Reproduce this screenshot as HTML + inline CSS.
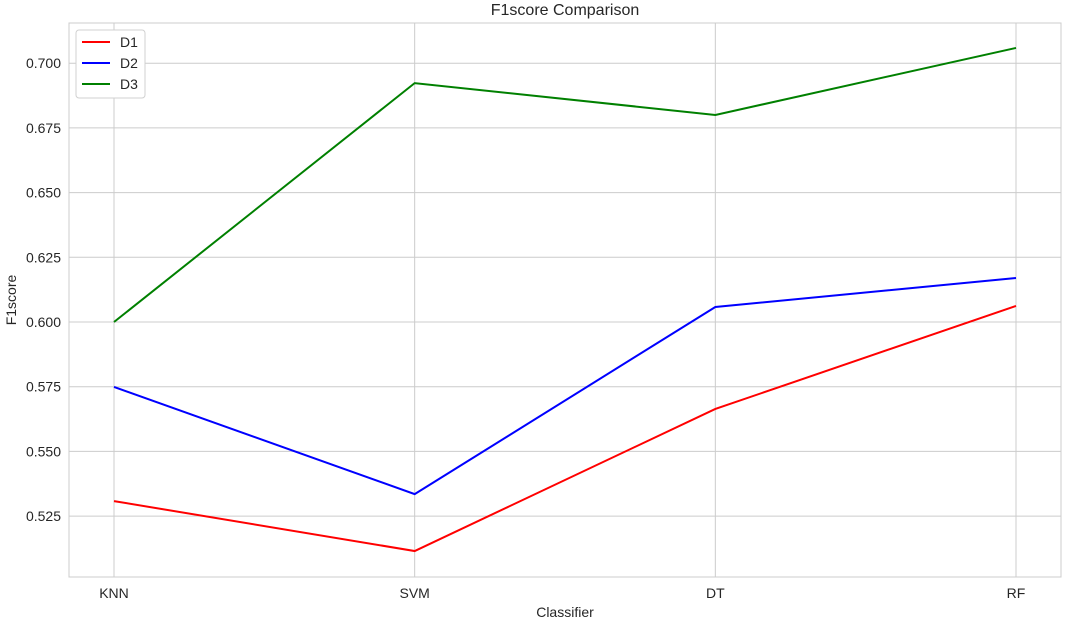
<!DOCTYPE html>
<html><head><meta charset="utf-8"><style>
body{margin:0;background:#fff;font-family:"Liberation Sans",Arial,sans-serif}
svg text{font-family:"Liberation Sans",Arial,sans-serif;fill:#262626}
</style></head><body>
<svg id="chart" width="1069" height="621" xmlns="http://www.w3.org/2000/svg"></svg>
<script>
const categories=["KNN","SVM","DT","RF"];
const d1=[0.5308,0.5115,0.5664,0.6062];
const d2=[0.5749,0.5335,0.6058,0.6170];
const d3=[0.6000,0.6923,0.6800,0.7059];
const yTicks=[0.525,0.550,0.575,0.600,0.625,0.650,0.675,0.700];
const seriesNames=["D1","D2","D3"];
const colors=["#ff0000","#0000ff","#008000"];
const L=69,R=1061,T=23,B=577;
const xs=i=>114+i*(1016-114)/(categories.length-1);
const ys=v=>322-(v-0.6)*2588;
const svg=document.getElementById('chart');const NS="http://www.w3.org/2000/svg";
function mk(t,a,p){const e=document.createElementNS(NS,t);for(const k in a)e.setAttribute(k,a[k]);(p||svg).appendChild(e);return e;}
const grid=mk('g',{});
yTicks.forEach(v=>{const y=ys(v);mk('line',{x1:L,x2:R,y1:y,y2:y,stroke:'#cccccc','stroke-width':1},grid);
const t=mk('text',{x:L-8,y:y+5,'text-anchor':'end','font-size':14});t.textContent=v.toFixed(3);
});
categories.forEach((c,i)=>{const x=xs(i);mk('line',{x1:x,x2:x,y1:T,y2:B,stroke:'#cccccc','stroke-width':1},grid);
const t=mk('text',{x:x,y:598,'text-anchor':'middle','font-size':14});t.textContent=c;
});
const fr=mk('rect',{x:L,y:T,width:R-L,height:B-T,fill:'none',stroke:'#cccccc','stroke-width':1});

[d1,d2,d3].forEach((s,k)=>{const p=mk('polyline',{points:s.map((v,i)=>xs(i)+','+ys(v)).join(' '),fill:'none',stroke:colors[k],'stroke-width':2});
});
let t=mk('text',{x:565,y:15,'text-anchor':'middle','font-size':16});t.textContent='F1score Comparison';

t=mk('text',{x:565,y:617,'text-anchor':'middle','font-size':14});t.textContent='Classifier';

t=mk('text',{x:16,y:300,'text-anchor':'middle','font-size':14,transform:'rotate(-90 16 300)'});t.textContent='F1score';

const lg=mk('g',{});
mk('rect',{x:76,y:30,width:69,height:68,rx:3,fill:'#fff',stroke:'#d0d0d0'},lg);
seriesNames.forEach((n,k)=>{const y=42+k*21;const e=mk('g',{},lg);

mk('line',{x1:82,x2:110,y1:y,y2:y,stroke:colors[k],'stroke-width':2},e);
const tt=mk('text',{x:120,y:y+5,'font-size':14},e);tt.textContent=n;});
</script>
</body></html>
